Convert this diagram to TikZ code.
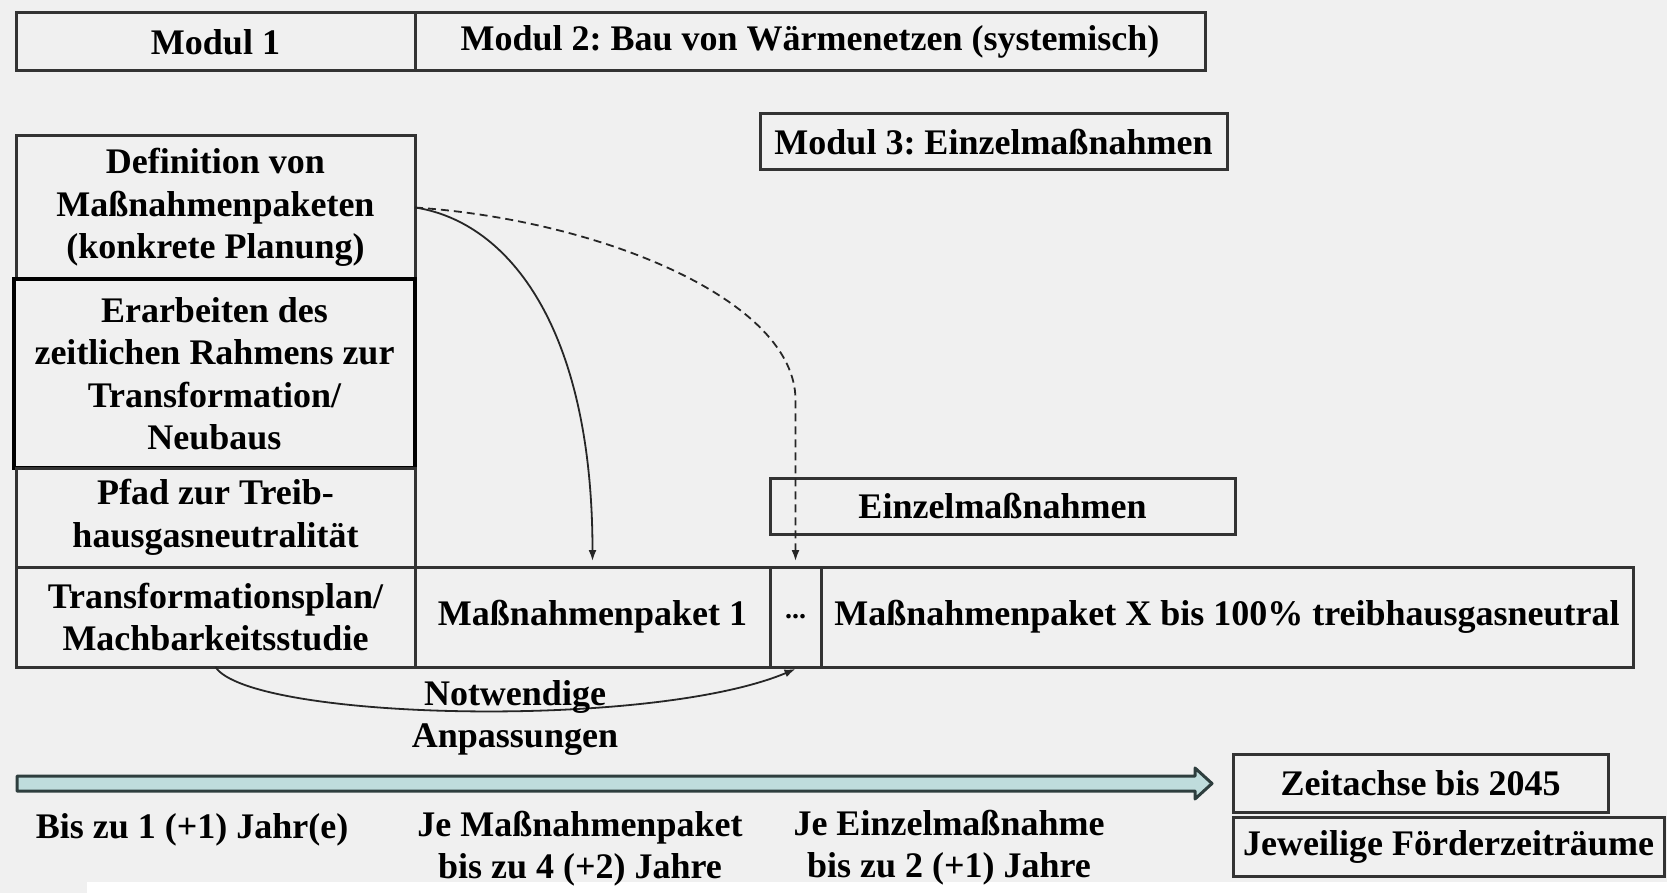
\documentclass[tikz,border=0pt]{standalone}
\usepackage{fontspec}
\setmainfont{Liberation Serif}
\usetikzlibrary{arrows.meta,calc}
\definecolor{bg}{HTML}{F0F0F0}
\definecolor{bd}{HTML}{333333}
\definecolor{axisfill}{HTML}{BFDCDC}
\definecolor{axisdraw}{HTML}{2E3E3E}
\frenchspacing
\tikzset{
 box/.style={draw=bd, line width=3pt, fill=bg, inner sep=0pt, outer sep=0pt, align=center, font=\bfseries\fontsize{36}{42.5}\selectfont},
 lbl/.style={inner sep=0pt, align=center, font=\bfseries\fontsize{36}{42}\selectfont},
 conn/.style={line width=1.8pt, draw=black!85, -{Latex[length=11pt,width=8pt]}},
}
\begin{document}
\begin{tikzpicture}[x=1pt,y=-1pt]
\useasboundingbox (0,0) rectangle (1667,893);
\fill[bg] (0,0) rectangle (1667,893);
\fill[white] (87,882) rectangle (1667,893);
% top bar
\node[box, minimum width=399pt, minimum height=58pt] (m1) at (215.5,42) {Modul 1};
\node[box, minimum width=790pt, minimum height=58pt] (m2) at (810,42) {Modul 2: Bau von Wärmenetzen (systemisch)};
\node[box, minimum width=467pt, minimum height=56pt] (m3) at (993.5,142) {Modul 3: Einzelmaßnahmen};
% left column
\node[box, minimum width=399pt, minimum height=143pt] (def) at (215.5,207.5) {Definition von\\Maßnahmenpaketen\\(konkrete Planung)};
\node[box, draw=black, line width=4.5pt, minimum width=401pt, minimum height=189pt] (erb) at (214.5,373.5) {Erarbeiten des\\zeitlichen Rahmens zur\\Transformation/\\Neubaus};
\node[box, minimum width=399pt, minimum height=99pt] (pfad) at (215.5,517.5) {Pfad zur Treib-\\hausgasneutralität};
% row
\node[box, minimum width=399pt, minimum height=100pt] (tp) at (215.5,617) {Transformationsplan/\\Machbarkeitsstudie};
\node[box, minimum width=355pt, minimum height=100pt] (mp1) at (592.5,617) {Maßnahmenpaket 1};
\node[box, minimum width=51pt, minimum height=100pt, font=\bfseries\fontsize{28}{30}\selectfont] (dots) at (795.5,617) {...};
\node[box, minimum width=812pt, minimum height=100pt] (mpx) at (1227,617) {Maßnahmenpaket X bis 100\% treibhausgasneutral};
\node[box, minimum width=465pt, minimum height=56pt] (ein) at (1002.5,506) {Einzelmaßnahmen};
% legend boxes
\node[box, minimum width=375pt, minimum height=58pt] (zeit) at (1420.5,783) {Zeitachse bis 2045};
\node[box, minimum width=431pt, minimum height=59pt] (jew) at (1448.5,846.5) {Jeweilige Förderzeiträume};
% time axis
\draw[axisdraw, fill=axisfill, line width=3pt, line join=round]
  (17,776) -- (1195,776) -- (1195,768) -- (1212,783.5) -- (1195,799) -- (1195,791) -- (17,791) -- cycle;
% bottom labels
\node[lbl, anchor=base] (l1) at (192,838) {Bis zu 1 (+1) Jahr(e)};
\node[lbl, anchor=base] (l2) at (580,878) {Je Maßnahmenpaket\\bis zu 4 (+2) Jahre};
\node[lbl, anchor=base] (l3) at (949,877) {Je Einzelmaßnahme\\bis zu 2 (+1) Jahre};
% connectors
\draw[conn] (def.east) .. controls (510,222) and (592.5,330) .. ([yshift=6pt]mp1.north);
\coordinate (dbend) at (795.5,400);
\draw[conn, dashed, dash pattern=on 8pt off 5pt] (def.east) .. controls (600,220) and (795.5,300) .. (dbend) -- ([yshift=6pt]dots.north);
\draw[conn] (tp.south) .. controls (250,720) and (650,730) .. ([yshift=-2pt]dots.south);
\node[lbl, anchor=base] (na) at (515,747) {Notwendige\\Anpassungen};
\end{tikzpicture}
\end{document}
